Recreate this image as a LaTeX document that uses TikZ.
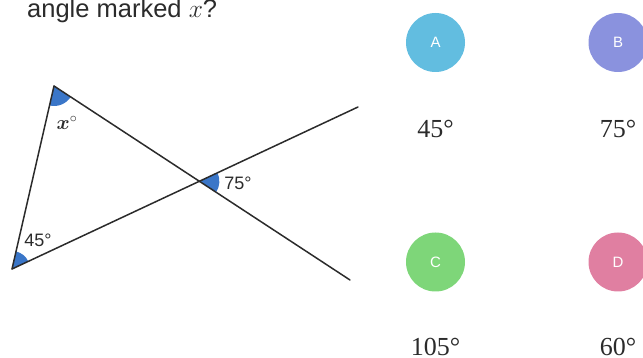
\documentclass[tikz,border=0pt]{standalone}
\usepackage{fix-cm}
\usepackage{amsmath}
\usepackage{fontspec}
\setmainfont{Liberation Serif}
\setsansfont{Liberation Sans}
\usepackage{xcolor}
\usetikzlibrary{positioning,angles}

\definecolor{wedgeblue}{HTML}{3A76C8}
\definecolor{optAcol}{HTML}{62BDE0}
\definecolor{optBcol}{HTML}{8A92DE}
\definecolor{optCcol}{HTML}{7ED679}
\definecolor{optDcol}{HTML}{E07FA1}
\definecolor{inkgray}{HTML}{2B2B2B}

\begin{document}
\begin{tikzpicture}[
        x=1pt, y=-1pt, on grid,
        line/.style={draw=inkgray, line width=1.5pt, line cap=round},
        wedge/.style={fill=wedgeblue},
        lbl/.style={font=\sffamily\fontsize{18}{20}\selectfont, text=inkgray, inner sep=0pt},
        opt/.style={circle, minimum size=59pt, inner sep=0pt, text=white,
            font=\sffamily\fontsize{15}{17}\selectfont},
        ans/.style={font=\fontsize{26}{28}\selectfont, text=inkgray, inner sep=0pt}
    ]
        \useasboundingbox (0,0) rectangle (643,358);
        % question
        \node[anchor=base west, inner sep=0pt, text=inkgray,
            font=\sffamily\fontsize{25.5}{28}\selectfont] (question) at (27,18) {angle marked $x$?};
        % the two crossing lines and the triangle
        \coordinate (T) at (54,86);
        \coordinate (L) at (12,269);
        \coordinate (R1) at (358,107);
        \coordinate (R2) at (350,280);
        \coordinate (X) at (intersection of L--R1 and T--R2);
        \pic[wedge, angle radius=20pt] {angle = L--T--X};
        \pic[wedge, angle radius=18pt] {angle = X--L--T};
        \pic[wedge, angle radius=20pt] {angle = R2--X--R1};
        \draw[line] (L) -- (T);
        \draw[line] (T) -- (R2);
        \draw[line] (L) -- (R1);
        \node[lbl, font=\fontsize{20}{22}\selectfont] (xlbl) at (67,123) {$\boldsymbol{x}^{\circ}$};
        \node[lbl] (lblL) at (38,240) {45°};
        \node[lbl] (lblX) at (238,183) {75°};
        % answer options
        \node[opt, fill=optAcol] (optA) at (435.5,42.5) {A};
        \node[opt, fill=optBcol, right=182.5pt of optA] (optB) {B};
        \node[ans, below=86.5pt of optA] (ansA) {45°};
        \node[ans, below=86.5pt of optB] (ansB) {75°};
        \node[opt, fill=optCcol, below=133pt of ansA] (optC) {C};
        \node[opt, fill=optDcol, below=133pt of ansB] (optD) {D};
        \node[ans, below=85pt of optC] (ansC) {105°};
        \node[ans, below=85pt of optD] (ansD) {60°};
    \end{tikzpicture}
\end{document}
